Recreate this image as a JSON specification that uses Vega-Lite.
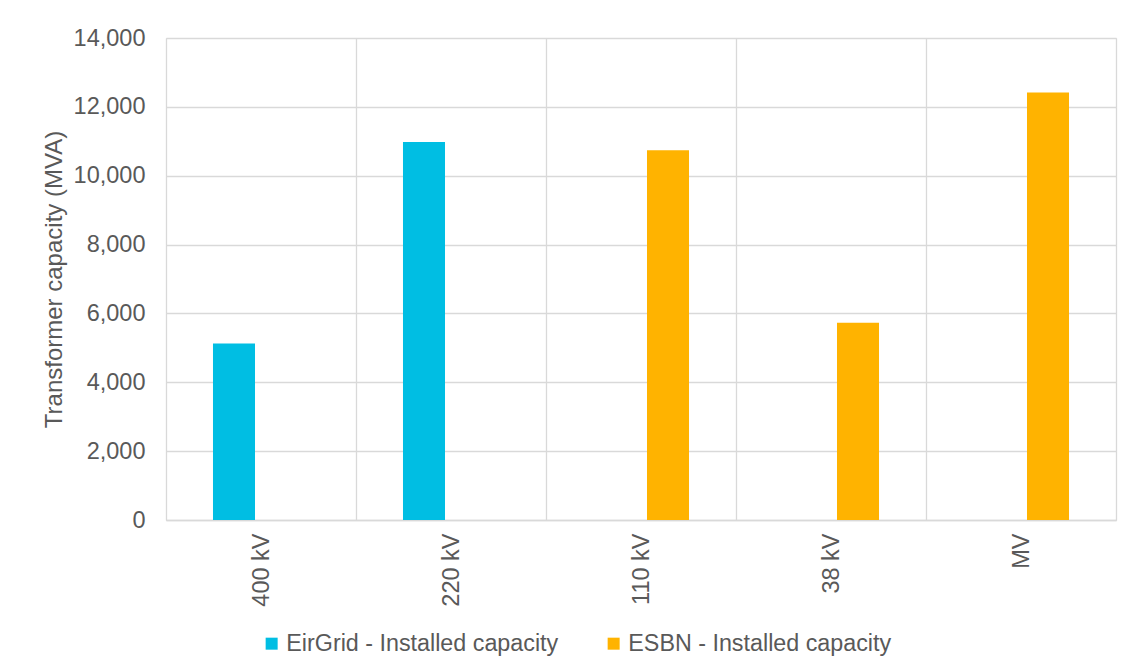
{
  "$schema": "https://vega.github.io/schema/vega-lite/v6.json",
  "autosize": "none",
  "width": 950,
  "height": 482,
  "padding": {"left": 166, "top": 38, "right": 12, "bottom": 148},
  "background": "#ffffff",
  "data": {
    "values": [
      {"level": "400 kV", "series": "EirGrid - Installed capacity", "capacity": 5130},
      {"level": "220 kV", "series": "EirGrid - Installed capacity", "capacity": 10980},
      {"level": "110 kV", "series": "ESBN - Installed capacity", "capacity": 10740},
      {"level": "38 kV", "series": "ESBN - Installed capacity", "capacity": 5730},
      {"level": "MV", "series": "ESBN - Installed capacity", "capacity": 12420}
    ]
  },
  "mark": {"type": "bar"},
  "encoding": {
    "x": {
      "field": "level",
      "type": "nominal",
      "sort": ["400 kV", "220 kV", "110 kV", "38 kV", "MV"],
      "scale": {"paddingInner": 0, "paddingOuter": 0},
      "axis": {
        "title": null,
        "labelAngle": -90,
        "labelAlign": "right",
        "labelBaseline": "middle",
        "labelPadding": 13,
        "ticks": false,
        "tickBand": "extent",
        "grid": true,
        "domain": true
      }
    },
    "xOffset": {
      "field": "series",
      "type": "nominal",
      "sort": ["EirGrid - Installed capacity", "ESBN - Installed capacity"],
      "scale": {"paddingInner": 0.222, "paddingOuter": 0.87}
    },
    "y": {
      "field": "capacity",
      "type": "quantitative",
      "scale": {"domain": [0, 14000], "nice": false},
      "axis": {
        "title": "Transformer capacity (MVA)",
        "values": [0, 2000, 4000, 6000, 8000, 10000, 12000, 14000],
        "format": ",.0f",
        "ticks": false,
        "domain": false,
        "labelPadding": 21,
        "titlePadding": 7,
        "grid": true
      }
    },
    "color": {
      "field": "series",
      "type": "nominal",
      "sort": ["EirGrid - Installed capacity", "ESBN - Installed capacity"],
      "scale": {"range": ["#00BEE3", "#FFB300"]},
      "legend": {
        "title": null,
        "orient": "none",
        "direction": "horizontal",
        "legendX": 94,
        "legendY": 594,
        "symbolType": "square",
        "symbolSize": 144,
        "symbolStrokeWidth": 0,
        "labelFontSize": 23.3,
        "labelColor": "#595959",
        "labelOffset": 3,
        "columnPadding": 43,
        "labelLimit": 400
      }
    }
  },
  "config": {
    "font": "Liberation Sans",
    "view": {"stroke": "#d9d9d9", "strokeWidth": 1},
    "axis": {
      "labelFont": "Liberation Sans",
      "labelFontSize": 23.5,
      "labelColor": "#595959",
      "titleFont": "Liberation Sans",
      "titleFontSize": 24,
      "titleFontWeight": "normal",
      "titleColor": "#595959",
      "gridColor": "#d9d9d9",
      "gridWidth": 1.3,
      "domainColor": "#d9d9d9",
      "domainWidth": 1.3
    },
    "legend": {"labelFont": "Liberation Sans"}
  }
}
